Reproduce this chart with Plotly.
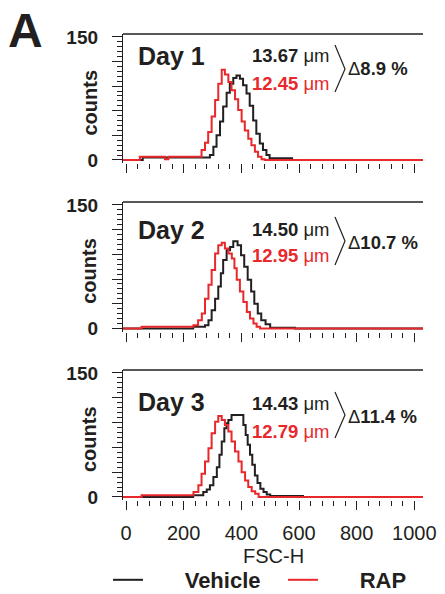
import plotly.graph_objects as go

# ---- data -----------------------------------------------------------------
days = ["Day 1", "Day 2", "Day 3"]
vehicle_um = ["13.67", "14.50", "14.43"]
rap_um = ["12.45", "12.95", "12.79"]
delta_pct = ["8.9", "10.7", "11.4"]

# FSC-H histograms (step outlines: left bin edge -> count)
veh1_x = [-10, 58, 291, 303, 314, 326, 337, 349, 360, 372, 383, 395, 406, 418, 429, 441, 452, 464, 475, 487, 498, 576, 1030]
veh1_y = [0, 3, 6, 16, 30, 47, 65, 82, 93, 100, 103, 99, 91, 81, 66, 48, 32, 20, 12, 6, 2, 0, 0]
rap1_x = [-10, 48, 135, 147, 262, 274, 285, 297, 309, 320, 332, 343, 355, 366, 378, 389, 401, 412, 424, 435, 447, 458, 470, 481, 1030]
rap1_y = [0, 4, 1, 4, 12, 21, 34, 53, 73, 93, 110, 104, 95, 85, 74, 61, 47, 36, 26, 18, 10, 4, 1, 0, 0]

veh2_x = [-10, 233, 274, 286, 297, 309, 320, 329, 337, 349, 361, 372, 387, 399, 410, 422, 434, 445, 457, 469, 484, 500, 586, 1030]
veh2_y = [0, 2, 4, 10, 22, 36, 51, 67, 83, 95, 99, 106, 101, 89, 75, 59, 45, 30, 18, 10, 5, 1, 0, 0]
rap2_x = [-10, 54, 234, 250, 263, 274, 286, 297, 309, 320, 332, 343, 355, 367, 376, 384, 395, 407, 419, 430, 442, 453, 465, 1030]
rap2_y = [0, 2, 4, 10, 18, 36, 53, 71, 91, 101, 104, 97, 91, 85, 73, 59, 45, 32, 20, 12, 6, 2, 0, 0]

veh3_x = [-10, 233, 268, 280, 291, 303, 315, 324, 332, 341, 349, 355, 366, 407, 415, 422, 430, 438, 447, 456, 466, 477, 488, 500, 614, 1030]
veh3_y = [0, 2, 6, 9, 14, 24, 36, 51, 67, 83, 89, 93, 99, 87, 75, 63, 51, 39, 26, 17, 10, 6, 3, 1, 0, 0]
rap3_x = [-10, 54, 234, 251, 262, 274, 286, 297, 309, 320, 332, 343, 355, 366, 378, 390, 401, 413, 424, 436, 448, 460, 1030]
rap3_y = [0, 2, 6, 14, 28, 43, 59, 77, 91, 98, 93, 87, 79, 67, 55, 43, 30, 20, 12, 7, 4, 0, 0]

vehicle = [(veh1_x, veh1_y), (veh2_x, veh2_y), (veh3_x, veh3_y)]
rap = [(rap1_x, rap1_y), (rap2_x, rap2_y), (rap3_x, rap3_y)]

x_ticks = [0, 200, 400, 600, 800, 1000]
y_ticks = [0, 30, 60, 90, 120, 150]
y_ticktext = ["0", "", "", "", "", "150"]

# ---- style ----------------------------------------------------------------
W, H = 445, 594
ML, MR, MT, MB = 123, 22, 34, 94
FONT = "Liberation Sans, Arial, Helvetica, sans-serif"
INK = "#231f20"
RED = "#e8282b"


def px_x(p):
    return (p - ML) / (W - ML - MR)


def px_y(p):
    return (H - MB - p) / (H - MT - MB)


# panel vertical extents in pixels (top, bottom)
panels = [(34, 163), (202, 331.5), (370, 500)]

fig = go.Figure()

for i in range(3):
    xa = "x" if i == 0 else f"x{i + 1}"
    ya = "y" if i == 0 else f"y{i + 1}"
    vx, vy = vehicle[i]
    rx, ry = rap[i]
    fig.add_trace(go.Scatter(
        x=vx, y=vy, mode="lines", line=dict(color=INK, width=2, shape="hv"),
        name="\u00a0" * 6 + "Vehicle", xaxis=xa, yaxis=ya,
        showlegend=(i == 0), legend="legend"))
    fig.add_trace(go.Scatter(
        x=rx, y=ry, mode="lines", line=dict(color=RED, width=2, shape="hv"),
        name="\u00a0" * 6 + "RAP", xaxis=xa, yaxis=ya,
        showlegend=(i == 0), legend="legend2"))

layout = dict(
    width=W, height=H,
    margin=dict(l=ML, r=MR, t=MT, b=MB, pad=0, autoexpand=False),
    paper_bgcolor="white", plot_bgcolor="white",
    font=dict(family=FONT, color=INK),
    legend=dict(x=px_x(108), y=px_y(580), xanchor="left", yanchor="middle",
                orientation="h", bgcolor="rgba(0,0,0,0)",
                font=dict(size=22, weight="bold", color=INK, family=FONT)),
    legend2=dict(x=px_x(283), y=px_y(580), xanchor="left", yanchor="middle",
                 orientation="h", bgcolor="rgba(0,0,0,0)",
                 font=dict(size=22, weight="bold", color=INK, family=FONT)),
)

for i, (top, bot) in enumerate(panels):
    sx = "" if i == 0 else str(i + 1)
    layout[f"xaxis{sx}"] = dict(
        domain=[0, 1], anchor=f"y{sx}", range=[-10.4, 1030], automargin=False,
        tickmode="array", tickvals=x_ticks,
        showticklabels=(i == 2), ticks="outside", ticklen=9, tickwidth=1.2,
        tickcolor=INK, showline=False, showgrid=False, zeroline=False,
        minor=dict(tickmode="linear", tick0=0, dtick=40, ticks="outside",
                   ticklen=5, tickwidth=1.2, tickcolor=INK, showgrid=False),
        tickfont=dict(size=20, color=INK, family=FONT),
        ticklabelstandoff=6,
    )
    layout[f"yaxis{sx}"] = dict(
        domain=[px_y(bot), px_y(top)], anchor=f"x{sx}", range=[-3.7, 153.5],
        automargin=False,
        tickmode="array", tickvals=y_ticks, ticktext=y_ticktext,
        ticks="outside", ticklen=10, tickwidth=1.2, tickcolor=INK,
        showline=True, linecolor=INK, linewidth=1.3, showgrid=False, zeroline=False,
        minor=dict(tickmode="linear", tick0=0, dtick=6, ticks="outside",
                   ticklen=5, tickwidth=1.2, tickcolor=INK, showgrid=False),
        tickfont=dict(size=19, color=INK, family=FONT, weight="bold"),
        ticklabelstandoff=10,
    )

fig.update_layout(**layout)

annotations = []
shapes = []

# panel letter
annotations.append(dict(text="<b>A</b>", x=px_x(6), y=px_y(30), xref="paper", yref="paper",
                        xanchor="left", yanchor="middle", showarrow=False,
                        font=dict(size=48, color=INK, family=FONT)))

# shared x-axis title
annotations.append(dict(text="FSC-H", x=px_x(273), y=px_y(556), xref="paper", yref="paper",
                        xanchor="center", yanchor="middle", showarrow=False,
                        font=dict(size=20, color=INK, family=FONT)))

day_y = [56, 230, 402]
veh_y = [55, 229, 403]
rap_y = [84, 255, 431]
delta_y = [69, 242, 416]
bracket = [(45, 69, 92), (217, 241, 265), (392, 415, 438)]

for i, (top, bot) in enumerate(panels):
    sx = "" if i == 0 else str(i + 1)
    # open top edge of the frame
    shapes.append(dict(type="line", xref=f"x{sx} domain", yref=f"y{sx} domain",
                       x0=0, x1=1, y0=1, y1=1, line=dict(color=INK, width=1.3)))
    # y-axis title
    annotations.append(dict(text="<b>counts</b>", x=px_x(89), y=px_y((top + bot) / 2 + 4),
                            xref="paper", yref="paper", textangle=-90,
                            xanchor="center", yanchor="middle", showarrow=False,
                            font=dict(size=20, color=INK, family=FONT)))
    annotations.append(dict(text=f"<b>{days[i]}</b>", x=px_x(136), y=px_y(day_y[i]),
                            xref="paper", yref="paper", xanchor="left", yanchor="middle",
                            showarrow=False, font=dict(size=25, color=INK, family=FONT)))
    annotations.append(dict(text=f"<b>{vehicle_um[i]}</b> \u03bcm", x=px_x(332), y=px_y(veh_y[i]),
                            xref="paper", yref="paper", xanchor="right", yanchor="middle",
                            showarrow=False, font=dict(size=18.5, color=INK, family=FONT)))
    annotations.append(dict(text=f"<b>{rap_um[i]}</b> \u03bcm", x=px_x(332), y=px_y(rap_y[i]),
                            xref="paper", yref="paper", xanchor="right", yanchor="middle",
                            showarrow=False, font=dict(size=18.5, color=RED, family=FONT)))
    annotations.append(dict(text=f"\u0394<b>{delta_pct[i]} %</b>", x=px_x(346), y=px_y(delta_y[i]),
                            xref="paper", yref="paper", xanchor="left", yanchor="middle",
                            showarrow=False, font=dict(size=18.5, color=INK, family=FONT)))
    b0, b1, b2 = bracket[i]
    shapes.append(dict(type="path", xref="paper", yref="paper",
                       path=f"M {px_x(335)},{px_y(b0)} L {px_x(345)},{px_y(b1)} L {px_x(335)},{px_y(b2)}",
                       line=dict(color=INK, width=1.2)))

fig.update_layout(annotations=annotations, shapes=shapes)

fig.write_html("out.html")
